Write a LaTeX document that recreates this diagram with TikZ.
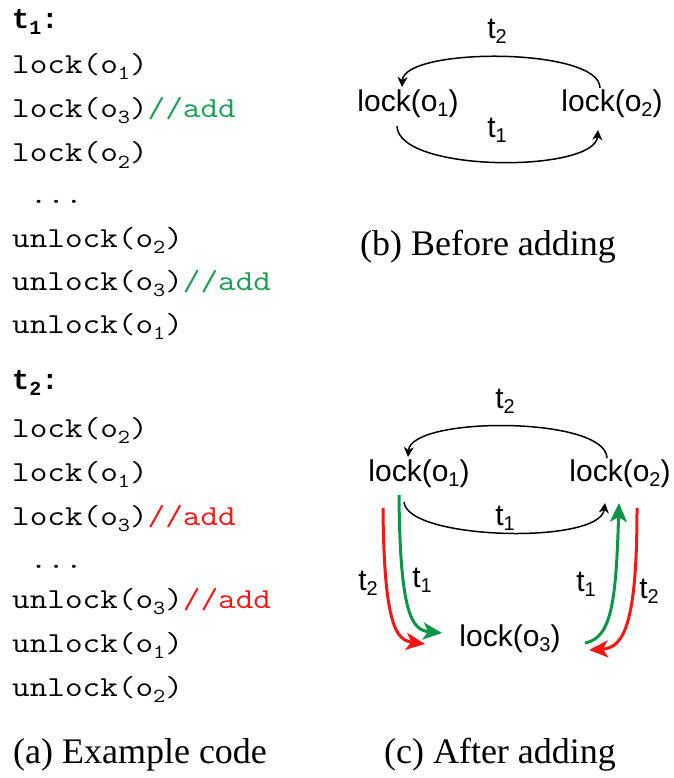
\documentclass[tikz,border=0pt]{standalone}
\usepackage{fontspec}
\usepackage{graphicx}
\setmainfont{Liberation Serif}
\newfontfamily\headfont{Liberation Mono}
\newfontfamily\labfont{Liberation Sans}
\usetikzlibrary{arrows.meta}

\definecolor{addgreen}{RGB}{24,160,80}
\definecolor{arrgreen}{RGB}{10,150,70}
\definecolor{addred}{RGB}{250,20,20}

% typewriter line for the listing, widened to a Courier-like pitch
\newcommand\cl[1]{\scalebox{1.18}[1]{#1}}
% subscripts for the code listing and for the graph labels
\newcommand\csub[1]{\raisebox{-6pt}{\fontsize{20}{20}\selectfont #1}}
\newcommand\lsub[1]{\raisebox{-5pt}{\fontsize{20}{20}\selectfont #1}}

\tikzset{
  codeline/.style={anchor=base west, inner sep=0pt, font=\ttfamily\fontsize{29}{30}\selectfont},
  codehead/.style={anchor=base west, inner sep=0pt, font=\headfont\bfseries\fontsize{28.5}{30}\selectfont},
  lockbox/.style={inner sep=0pt, font=\labfont\fontsize{30}{32}\selectfont},
  tlabel/.style={inner sep=0pt, font=\labfont\fontsize{30}{32}\selectfont},
  caption/.style={anchor=base, inner sep=0pt, font=\fontsize{36}{40}\selectfont},
  blackarc/.style={line width=1.5pt, -{Stealth[length=10pt,width=10pt,inset=3pt]}},
  colarc/.style={line width=3pt, -{Stealth[length=19pt,width=17pt,inset=5pt]}},
}

\begin{document}
\begin{tikzpicture}[x=1pt,y=-1pt]
\useasboundingbox (0,0) rectangle (673,778);

% ---- (a) listing for thread t1 ----
\node[codehead] (h1) at (12,29) {t\csub{1}:};
\node[codeline] (a1) at (12,74) {\cl{lock(o\csub{1})}};
\node[codeline] (a2) at (12,118) {\cl{lock(o\csub{3})\textcolor{addgreen}{//add}}};
\node[codeline] (a3) at (12,162) {\cl{lock(o\csub{2})}};
\node[codeline] (a4) at (12,203) {\cl{\ ...}};
\node[codeline] (a5) at (12,247) {\cl{unlock(o\csub{2})}};
\node[codeline] (a6) at (12,290) {\cl{unlock(o\csub{3})\textcolor{addgreen}{//add}}};
\node[codeline] (a7) at (12,333) {\cl{unlock(o\csub{1})}};

% ---- (a) listing for thread t2 ----
\node[codehead] (h2) at (12,389) {t\csub{2}:};
\node[codeline] (b1) at (12,437) {\cl{lock(o\csub{2})}};
\node[codeline] (b2) at (12,481) {\cl{lock(o\csub{1})}};
\node[codeline] (b3) at (12,525) {\cl{lock(o\csub{3})\textcolor{addred}{//add}}};
\node[codeline] (b4) at (12,568) {\cl{\ ...}};
\node[codeline] (b5) at (12,608) {\cl{unlock(o\csub{3})\textcolor{addred}{//add}}};
\node[codeline] (b6) at (12,652) {\cl{unlock(o\csub{1})}};
\node[codeline] (b7) at (12,696) {\cl{unlock(o\csub{2})}};

% ---- (b) lock graph before adding ----
\node[lockbox] (p1) at (408,104) {lock(o\lsub{1})};
\node[lockbox] (p2) at (612,104) {lock(o\lsub{2})};
\node[tlabel] (pt2) at (497,31) {t\lsub{2}};
\node[tlabel] (pt1) at (497,130) {t\lsub{1}};
\coordinate (p2top) at (600,88);
\coordinate (p1top) at (402,87);
\coordinate (p1bot) at (397,126);
\coordinate (p2bot) at (598,130);
\draw[blackarc] (p2top) .. controls (600,47) and (404,47) .. (p1top);
\draw[blackarc] (p1bot) .. controls (398,173) and (595,173) .. (p2bot);

% ---- (c) lock graph after adding ----
\node[lockbox] (q1) at (419,474) {lock(o\lsub{1})};
\node[lockbox] (q2) at (620,474) {lock(o\lsub{2})};
\node[lockbox] (q3) at (510,639) {lock(o\lsub{3})};
\node[tlabel] (qt2) at (505,401) {t\lsub{2}};
\node[tlabel] (qt1) at (505,518) {t\lsub{1}};
\coordinate (q2top) at (607,458);
\coordinate (q1top) at (408,457);
\coordinate (q1bot) at (404,502);
\coordinate (q2bot) at (605,503);
\draw[blackarc] (q2top) .. controls (606,416) and (411,416) .. (q1top);
\draw[blackarc] (q1bot) .. controls (407,540) and (600,545) .. (q2bot);

% t1 path through o3 (green) and t2 path through o3 (red)
\coordinate (g1s) at (399,495);
\coordinate (g1e) at (442,633);
\coordinate (r1s) at (383,508);
\coordinate (r1e) at (425,644);
\coordinate (g2s) at (585,643);
\coordinate (g2e) at (619,503);
\coordinate (r2s) at (637,508);
\coordinate (r2e) at (589,650);
\draw[colarc, arrgreen] (g1s) .. controls (400,615) and (412,630) .. (g1e);
\draw[colarc, addred] (r1s) .. controls (384,625) and (396,640) .. (r1e);
\draw[colarc, arrgreen] (g2s) .. controls (612,638) and (616,600) .. (g2e);
\draw[colarc, addred] (r2s) .. controls (637,620) and (625,648) .. (r2e);

\node[tlabel] (lt2) at (368,583) {t\lsub{2}};
\node[tlabel] (lt1) at (422,580) {t\lsub{1}};
\node[tlabel] (rt1) at (586,584) {t\lsub{1}};
\node[tlabel] (rt2) at (649,591) {t\lsub{2}};

% ---- captions ----
\node[caption] (capa) at (140,763) {(a) Example code};
\node[caption] (capb) at (488,255) {(b) Before adding};
\node[caption] (capc) at (500,763) {(c) After adding};
\end{tikzpicture}
\end{document}
